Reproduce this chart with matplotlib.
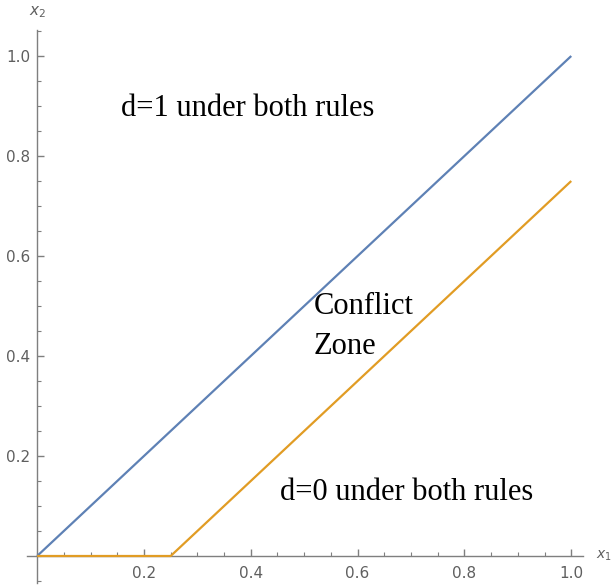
import numpy as np
import matplotlib.pyplot as plt
from matplotlib.ticker import MultipleLocator

# data
x_blue = [0.0, 1.0]
y_blue = [0.0, 1.0]
x_orange = [0.0, 0.25, 1.0]
y_orange = [0.0, 0.0, 0.75]
major_ticks = [0.2, 0.4, 0.6, 0.8, 1.0]
tick_labels = ["0.2", "0.4", "0.6", "0.8", "1.0"]

blue = "#5E81B5"
orange = "#E19C24"
axis_grey = "#7f7f7f"
label_grey = "#5f5f5f"

fig = plt.figure(figsize=(6.11, 5.87), dpi=100)
ax = fig.add_axes([27 / 611, 4 / 587, 556 / 611, 553 / 587])

ax.plot(x_blue, y_blue, color=blue, lw=1.6, solid_capstyle="butt", zorder=3)
ax.plot(x_orange, y_orange, color=orange, lw=1.6, solid_capstyle="butt", zorder=3)

ax.set_xlim(-0.019, 1.022)
ax.set_ylim(-0.054, 1.052)

for s in ["top", "right"]:
    ax.spines[s].set_visible(False)
for s in ["left", "bottom"]:
    ax.spines[s].set_position(("data", 0))
    ax.spines[s].set_color(axis_grey)
    ax.spines[s].set_linewidth(1.0)

ax.set_xticks(major_ticks)
ax.set_xticklabels(tick_labels)
ax.set_yticks(major_ticks)
ax.set_yticklabels(tick_labels)
ax.xaxis.set_minor_locator(MultipleLocator(0.05))
ax.yaxis.set_minor_locator(MultipleLocator(0.05))
ax.tick_params(which="major", direction="in", length=5, width=1.0,
               color=axis_grey, labelcolor=label_grey, labelsize=11, pad=5)
ax.tick_params(which="minor", direction="in", length=3, width=0.8, color=axis_grey)
ax.tick_params(axis="x", which="both", pad=7)

ax.text(1.047, 0.0, "$x_1$", color=label_grey, fontsize=10, ha="left", va="center",
        clip_on=False)
ax.text(0.0, 1.088, "$x_2$", color=label_grey, fontsize=11, ha="center", va="center",
        clip_on=False)

serif = ["Liberation Serif", "DejaVu Serif"]
ax.text(0.394, 0.896, "d=1 under both rules", family=serif, fontsize=22,
        ha="center", va="center")
ax.text(0.517, 0.50, "Conflict", family=serif, fontsize=22, ha="left", va="center")
ax.text(0.517, 0.418, "Zone", family=serif, fontsize=22, ha="left", va="center")
ax.text(0.692, 0.126, "d=0 under both rules", family=serif, fontsize=22,
        ha="center", va="center")

fig.savefig("out.png", dpi=100)
